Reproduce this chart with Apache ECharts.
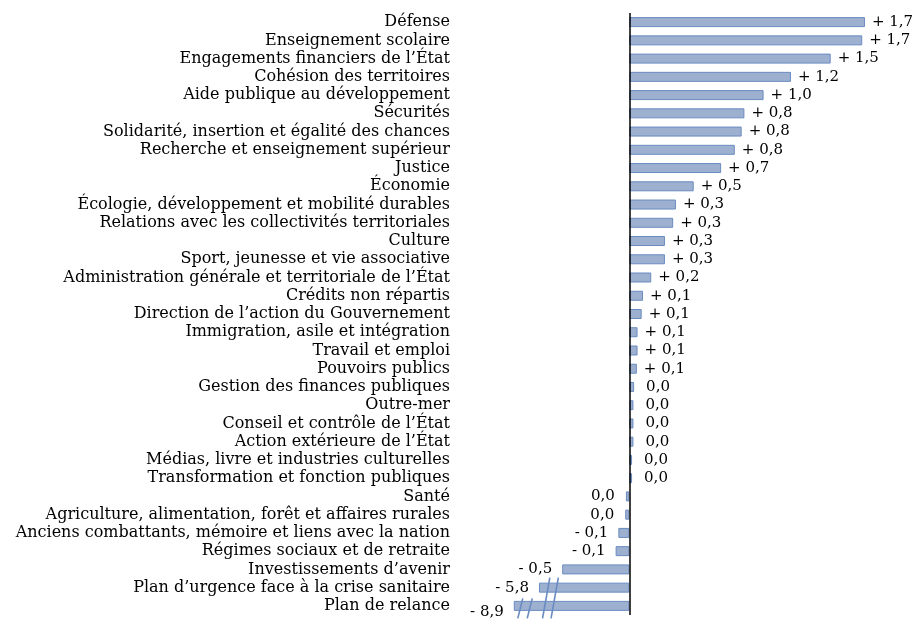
<!DOCTYPE html>
<html><head><meta charset="utf-8">
<script src="https://cdn.jsdelivr.net/npm/echarts@6/dist/echarts.min.js"></script>
<style>html,body{margin:0;padding:0;background:#fff}#main{width:924px;height:637px}</style>
</head><body><div id="main"></div>
<script>
const categories = [
  "Défense",
  "Enseignement scolaire",
  "Engagements financiers de l’État",
  "Cohésion des territoires",
  "Aide publique au développement",
  "Sécurités",
  "Solidarité, insertion et égalité des chances",
  "Recherche et enseignement supérieur",
  "Justice",
  "Économie",
  "Écologie, développement et mobilité durables",
  "Relations avec les collectivités territoriales",
  "Culture",
  "Sport, jeunesse et vie associative",
  "Administration générale et territoriale de l’État",
  "Crédits non répartis",
  "Direction de l’action du Gouvernement",
  "Immigration, asile et intégration",
  "Travail et emploi",
  "Pouvoirs publics",
  "Gestion des finances publiques",
  "Outre-mer",
  "Conseil et contrôle de l’État",
  "Action extérieure de l’État",
  "Médias, livre et industries culturelles",
  "Transformation et fonction publiques",
  "Santé",
  "Agriculture, alimentation, forêt et affaires rurales",
  "Anciens combattants, mémoire et liens avec la nation",
  "Régimes sociaux et de retraite",
  "Investissements d’avenir",
  "Plan d’urgence face à la crise sanitaire",
  "Plan de relance"
];
const values = [
  1.72, 1.70, 1.47, 1.18, 0.98, 0.84, 0.82, 0.77, 0.67, 0.47,
  0.34, 0.32, 0.26, 0.26, 0.16, 0.10, 0.09, 0.06, 0.06, 0.055,
  0.035, 0.03, 0.03, 0.03, 0.02, 0.02, -0.025, -0.03, -0.08, -0.10,
  -0.49, -5.8, -8.9
];
// axis extent and the break of the value axis (in data units)
const axisMin = -9.3;
const axisMax = 2.0;
const breakStart = -8.75;
const breakEnd = -0.6;

const FONT = 'DejaVu Serif';
const BAR_FILL = '#9db0d0';
const BAR_EDGE = '#6a8bc0';

function fmt(v) {
  const r = Math.round(Math.abs(v) * 10) / 10;
  const s = r.toFixed(1).replace('.', ',');
  if (r === 0) return s;
  return (v > 0 ? '+ ' : '- ') + s;
}

const barData = values.map((v, i) => {
  const zero = Math.round(Math.abs(v) * 10) === 0;
  const lab = {
    show: true,
    position: v >= 0 ? 'right' : 'left',
    distance: v >= 0 ? (zero ? 12 : 7) : (zero ? 11 : 10),
    formatter: fmt(v)
  };
  if (i === values.length - 1) lab.offset = [0, 6];
  return { value: v, label: lab };
});

const chart = echarts.init(document.getElementById('main'));
const option = {
  animation: false,
  backgroundColor: '#ffffff',
  grid: { left: 459, top: 13, width: 444.3, height: 602, containLabel: false, outerBoundsMode: 'none' },
  xAxis: {
    type: 'value',
    min: axisMin,
    max: axisMax,
    breaks: [{ start: breakStart, end: breakEnd, gap: '2.88%' }],
    breakArea: { show: false },
    axisLine: { show: false },
    axisTick: { show: false },
    axisLabel: { show: false },
    splitLine: { show: false }
  },
  yAxis: {
    type: 'category',
    inverse: true,
    data: categories,
    axisLine: { show: false, onZero: false },
    axisTick: { show: false },
    axisLabel: { margin: 9, color: '#000', fontFamily: FONT, fontSize: 16, interval: 0 }
  },
  series: [{
    type: 'bar',
    data: barData,
    barWidth: 10,
    itemStyle: { color: BAR_FILL, borderColor: BAR_EDGE, borderWidth: 1 },
    label: { color: '#000', fontFamily: FONT, fontSize: 15 },
    markLine: {
      silent: true,
      symbol: 'none',
      label: { show: false },
      lineStyle: { color: '#000', width: 1.5, type: 'solid' },
      data: [{ xAxis: 0 }]
    }
  }]
};
chart.setOption(option);

// break marks (slashes) drawn over the truncated bars
function px(v, c) { return chart.convertToPixel({ xAxisIndex: 0, yAxisIndex: 0 }, [v, c]); }
const n = categories.length;
const p = px(breakEnd, n - 2);
const q = px(breakEnd, n - 1);
const r = px(values[n - 1], n - 1);
const slashStyle = { stroke: BAR_EDGE, lineWidth: 1.6 };
const lines = [];
[0, 8.5].forEach(dx => {
  lines.push({ type: 'line', z: 100, shape: { x1: q[0] - 4.6 + dx, y1: q[1] + 12.5, x2: p[0] + 2.7 + dx, y2: p[1] - 10 }, style: slashStyle, silent: true });
});
[0, 9.4].forEach(dx => {
  lines.push({ type: 'line', z: 100, shape: { x1: r[0] + 4 + dx, y1: r[1] + 12.5, x2: r[0] + 9 + dx, y2: r[1] - 7.5 }, style: slashStyle, silent: true });
});
chart.setOption({ graphic: lines });
</script>
</body></html>
